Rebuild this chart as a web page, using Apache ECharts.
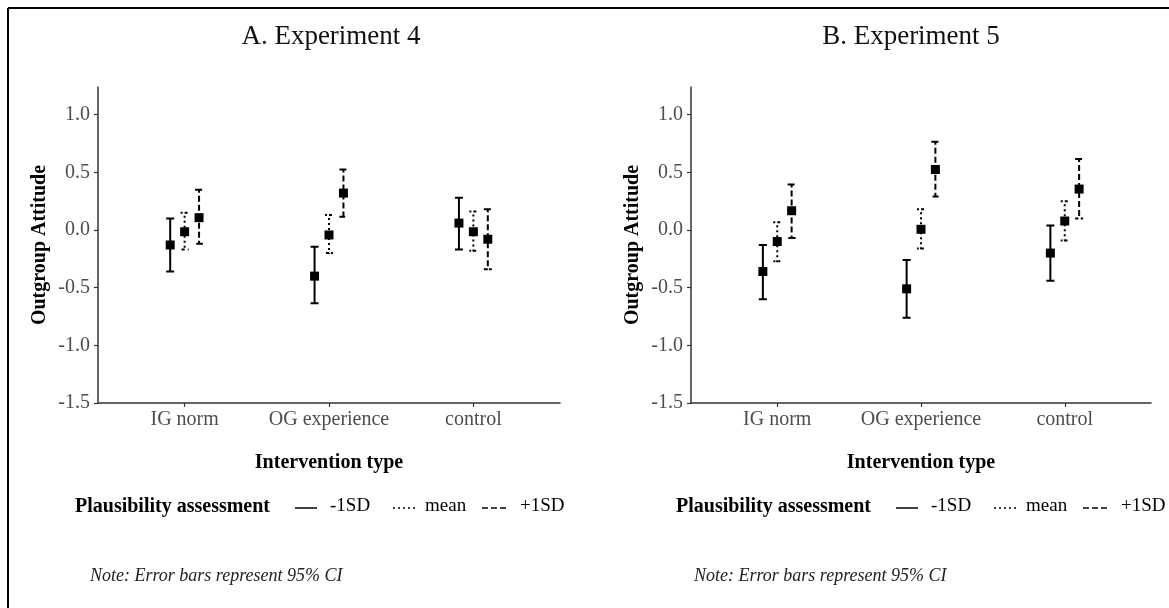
<!DOCTYPE html>
<html>
<head>
<meta charset="utf-8">
<script src="https://cdn.jsdelivr.net/npm/echarts@6/dist/echarts.min.js"></script>
<style>html,body{margin:0;padding:0;background:#fff;}#c{width:1169px;height:608px;}</style>
</head>
<body>
<div id="c"></div>
<script>
// ---- data ----
const categories = ['IG norm', 'OG experience', 'control'];
const groups = ['-1SD', 'mean', '+1SD'];
const yTicks = [-1.5, -1.0, -0.5, 0.0, 0.5, 1.0];
const panelTitles = ['A. Experiment 4', 'B. Experiment 5'];

// Experiment 4
const exp4_low_est  = [-0.13, -0.40, 0.06];
const exp4_low_lo   = [-0.36, -0.635, -0.17];
const exp4_low_hi   = [0.10, -0.145, 0.28];
const exp4_mean_est = [-0.015, -0.043, -0.015];
const exp4_mean_lo  = [-0.17, -0.20, -0.18];
const exp4_mean_hi  = [0.15, 0.13, 0.16];
const exp4_high_est = [0.107, 0.32, -0.08];
const exp4_high_lo  = [-0.12, 0.115, -0.34];
const exp4_high_hi  = [0.35, 0.525, 0.18];

// Experiment 5
const exp5_low_est  = [-0.36, -0.51, -0.20];
const exp5_low_lo   = [-0.60, -0.76, -0.44];
const exp5_low_hi   = [-0.13, -0.26, 0.04];
const exp5_mean_est = [-0.10, 0.006, 0.078];
const exp5_mean_lo  = [-0.27, -0.16, -0.09];
const exp5_mean_hi  = [0.067, 0.18, 0.25];
const exp5_high_est = [0.167, 0.525, 0.355];
const exp5_high_lo  = [-0.07, 0.29, 0.10];
const exp5_high_hi  = [0.395, 0.765, 0.615];

// ---- styling ----
const FONT = 'Liberation Serif';
const dodge = [-0.1, 0, 0.1];
const dashes = [null, [2, 3], [6, 3]];

function rows(est, lo, hi) {
  return categories.map((c, i) => [i + 1, est[i], lo[i], hi[i]]);
}
const panels = [
  [rows(exp4_low_est, exp4_low_lo, exp4_low_hi), rows(exp4_mean_est, exp4_mean_lo, exp4_mean_hi), rows(exp4_high_est, exp4_high_lo, exp4_high_hi)],
  [rows(exp5_low_est, exp5_low_lo, exp5_low_hi), rows(exp5_mean_est, exp5_mean_lo, exp5_mean_hi), rows(exp5_high_est, exp5_high_lo, exp5_high_hi)]
];

function makeRender(k) {
  return function (params, api) {
    const x = api.value(0) + dodge[k];
    const c = api.coord([x, api.value(1)]);
    const l = api.coord([x, api.value(2)]);
    const h = api.coord([x, api.value(3)]);
    const w = 4;
    const pts = [[h[0] - w, h[1]], [h[0] + w, h[1]], [h[0], h[1]], [l[0], l[1]], [l[0] - w, l[1]], [l[0] + w, l[1]]];
    return {
      type: 'group',
      children: [
        { type: 'polyline', shape: { points: pts }, style: { stroke: '#000', lineWidth: 2, fill: null, lineDash: dashes[k] } },
        { type: 'rect', shape: { x: c[0] - 4.5, y: c[1] - 4.5, width: 9, height: 9 }, style: { fill: '#000' } }
      ]
    };
  };
}

const grids = [
  { left: 98, top: 87, width: 462, height: 316 },
  { left: 691, top: 87, width: 460, height: 316 }
];

const axisLineStyle = { color: '#333', width: 1.5 };
const xAxes = grids.map((g, gi) => ({
  gridIndex: gi, type: 'value', min: 0.4, max: 3.6,
  axisLine: { show: true, onZero: false, lineStyle: axisLineStyle },
  axisTick: { show: true, customValues: [1, 2, 3], length: 4, lineStyle: { color: '#333', width: 1.2 } },
  axisLabel: { customValues: [1, 2, 3], formatter: v => categories[Math.round(v) - 1], color: '#4d4d4d', fontFamily: FONT, fontSize: 20, margin: 7 },
  splitLine: { show: false },
  name: 'Intervention type', nameLocation: 'middle', nameGap: 50,
  nameTextStyle: { fontFamily: FONT, fontSize: 20, fontWeight: 'bold', color: '#000' }
}));
const yAxes = grids.map((g, gi) => ({
  gridIndex: gi, type: 'value', min: -1.5, max: 1.24,
  axisLine: { show: true, onZero: false, lineStyle: axisLineStyle },
  axisTick: { show: true, customValues: yTicks, length: 4, lineStyle: { color: '#333', width: 1.2 } },
  axisLabel: { customValues: yTicks, formatter: v => v.toFixed(1), color: '#4d4d4d', fontFamily: FONT, fontSize: 20, margin: 8 },
  splitLine: { show: false },
  name: 'Outgroup Attitude', nameLocation: 'middle', nameRotate: 90, nameGap: 48,
  nameTextStyle: { fontFamily: FONT, fontSize: 20, fontWeight: 'bold', color: '#000' }
}));

const series = [];
panels.forEach((p, gi) => {
  p.forEach((d, k) => {
    series.push({
      type: 'custom', name: groups[k], xAxisIndex: gi, yAxisIndex: gi,
      data: d, encode: { x: 0, y: [1, 2, 3] }, renderItem: makeRender(k), clip: false, silent: true
    });
  });
});

// legend key + note drawn as graphic
function legendGraphic(x0, y) {
  const ts = { fontFamily: FONT, fontSize: 19, fill: '#000', verticalAlign: 'middle', textAlign: 'left' };
  return [
    { type: 'text', left: x0, top: y - 11, style: Object.assign({}, ts, { text: 'Plausibility assessment', fontWeight: 'bold', fontSize: 20 }) },
    { type: 'line', shape: { x1: x0 + 220, y1: y, x2: x0 + 242, y2: y }, style: { stroke: '#000', lineWidth: 1.5 } },
    { type: 'text', left: x0 + 255, top: y - 11, style: Object.assign({}, ts, { text: '-1SD' }) },
    { type: 'line', shape: { x1: x0 + 318, y1: y, x2: x0 + 340, y2: y }, style: { stroke: '#000', lineWidth: 1.5, lineDash: [2, 3] } },
    { type: 'text', left: x0 + 350, top: y - 11, style: Object.assign({}, ts, { text: 'mean' }) },
    { type: 'line', shape: { x1: x0 + 407, y1: y, x2: x0 + 432, y2: y }, style: { stroke: '#000', lineWidth: 1.5, lineDash: [6, 3] } },
    { type: 'text', left: x0 + 445, top: y - 11, style: Object.assign({}, ts, { text: '+1SD' }) }
  ];
}

const noteStyle = { text: 'Note: Error bars represent 95% CI', fontFamily: FONT, fontSize: 18, fontStyle: 'italic', fill: '#222' };
const graphic = [
  { type: 'line', shape: { x1: 8, y1: 8, x2: 1169, y2: 8 }, style: { stroke: '#000', lineWidth: 2 } },
  { type: 'line', shape: { x1: 8, y1: 8, x2: 8, y2: 608 }, style: { stroke: '#000', lineWidth: 2 } },
  ...legendGraphic(75, 508),
  ...legendGraphic(676, 508),
  { type: 'text', left: 90, top: 567, style: noteStyle },
  { type: 'text', left: 694, top: 567, style: noteStyle }
];

const chart = echarts.init(document.getElementById('c'), null, { renderer: 'canvas' });
chart.setOption({
  backgroundColor: '#fff',
  animation: false,
  title: [
    { text: panelTitles[0], left: 331, top: 23, textAlign: 'center', padding: 0, textStyle: { fontFamily: FONT, fontSize: 27, fontWeight: 'normal', color: '#111' } },
    { text: panelTitles[1], left: 911, top: 23, textAlign: 'center', padding: 0, textStyle: { fontFamily: FONT, fontSize: 27, fontWeight: 'normal', color: '#111' } }
  ],
  grid: grids,
  xAxis: xAxes,
  yAxis: yAxes,
  series: series,
  graphic: graphic
});
</script>
</body>
</html>
